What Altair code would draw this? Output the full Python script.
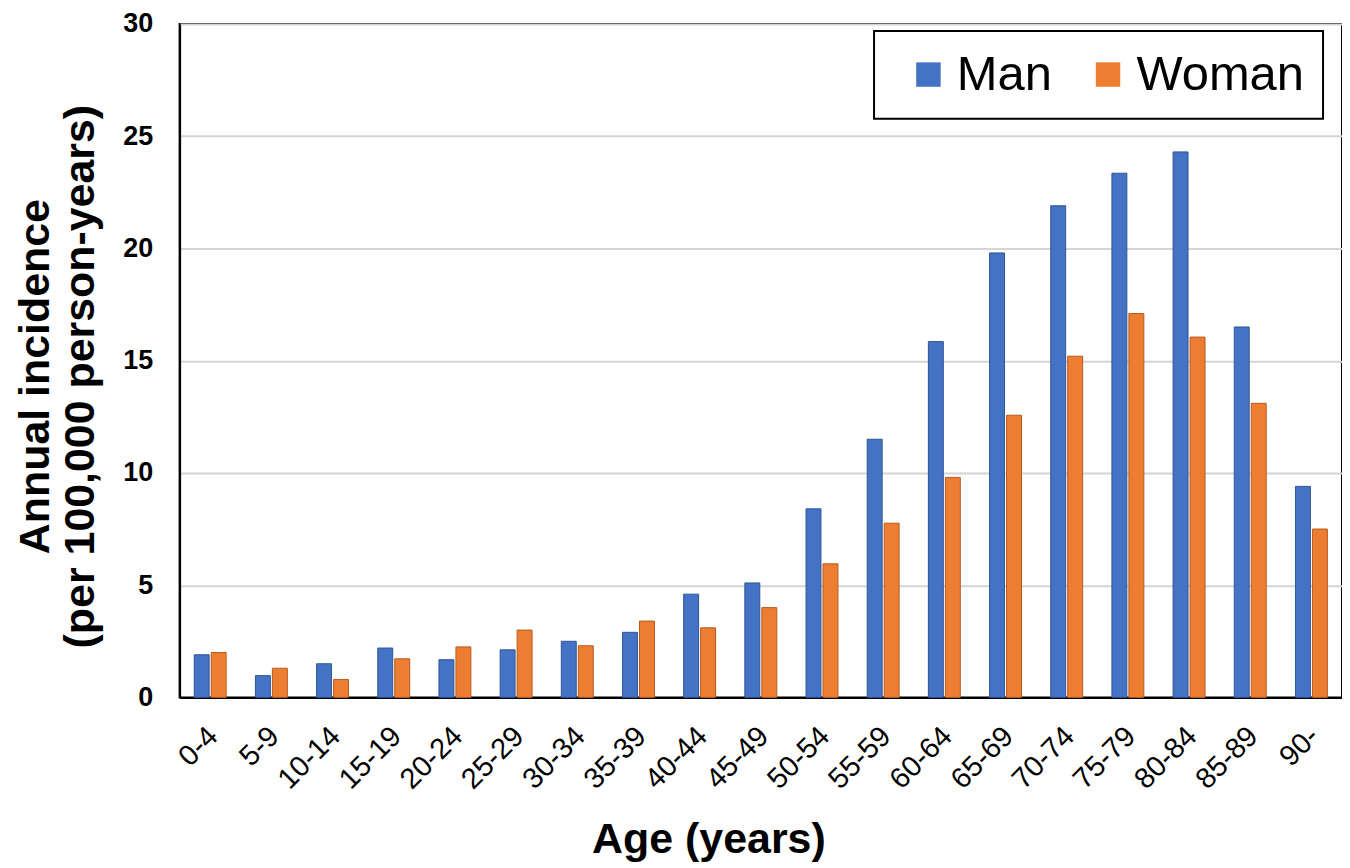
import pandas as pd
import altair as alt

# age groups and incidence per 100,000 person-years
age_groups = ['0-4', '5-9', '10-14', '15-19', '20-24', '25-29', '30-34', '35-39',
              '40-44', '45-49', '50-54', '55-59', '60-64', '65-69', '70-74',
              '75-79', '80-84', '85-89', '90-']
man = [1.9, 0.97, 1.5, 2.2, 1.68, 2.12, 2.5, 2.9, 4.6, 5.1, 8.4, 11.5,
       15.85, 19.8, 21.9, 23.35, 24.3, 16.5, 9.4]
woman = [2.0, 1.3, 0.8, 1.72, 2.25, 3.0, 2.3, 3.4, 3.1, 4.0, 5.95, 7.76,
         9.8, 12.57, 15.2, 17.1, 16.05, 13.1, 7.5]
sexes = ['Man', 'Woman']

df = pd.concat([
    pd.DataFrame({'age': age_groups, 'sex': 'Man', 'value': man}),
    pd.DataFrame({'age': age_groups, 'sex': 'Woman', 'value': woman}),
])

font = 'Liberation Sans'

bars = alt.Chart(df).mark_bar(strokeWidth=1).encode(
    x=alt.X('age:N', sort=age_groups,
            scale=alt.Scale(paddingInner=0.478, paddingOuter=0.239),
            axis=alt.Axis(title='Age (years)', labelAngle=-45, labelFontSize=29,
                          labelFont=font, labelColor='black', labelPadding=24,
                          labelOffset=-7,
                          ticks=False, domainColor='black', domainWidth=2,
                          titleFont=font, titleFontSize=43, titleFontWeight='bold',
                          titleColor='black', titleX=530, titleY=155,
                          titleBaseline='alphabetic')),
    xOffset=alt.XOffset('sex:N', sort=sexes,
                        scale=alt.Scale(paddingInner=0.12, paddingOuter=0)),
    y=alt.Y('value:Q',
            scale=alt.Scale(domain=[0, 30], nice=False),
            axis=alt.Axis(title=['Annual incidence', '(per 100,000 person-years)'],
                          values=[0, 5, 10, 15, 20, 25, 30],
                          labelFontSize=27, labelFont=font, labelFontWeight='bold',
                          labelColor='black', labelPadding=27, ticks=False,
                          domainColor='black', domainWidth=2,
                          gridColor='#d4d4d4', gridWidth=2,
                          titleFont=font, titleFontSize=43, titleFontWeight='bold',
                          titleColor='black', titlePadding=20, titleLineHeight=45,
                          titleY=353)),
    color=alt.Color('sex:N', sort=sexes,
                    scale=alt.Scale(domain=sexes, range=['#4472C4', '#ED7D31']),
                    legend=alt.Legend(title=None, orient='none', legendX=696, legendY=7,
                                      direction='horizontal', symbolType='square',
                                      symbolSize=600, symbolStrokeWidth=0,
                                      labelFontSize=49, labelFont=font, labelColor='black',
                                      labelLimit=400, labelOffset=4, columnPadding=20,
                                      symbolOffset=11, padding=19,
                                      strokeColor='black', fillColor='white')),
    stroke=alt.Stroke('sex:N', sort=sexes,
                      scale=alt.Scale(domain=sexes, range=['#2F5597', '#B85A1E']),
                      legend=None),
).properties(
    width=1165,
    height=675,
    autosize=alt.AutoSizeParams(type='none'),
    padding={'left': 172, 'top': 15, 'right': 0, 'bottom': 168},
)

chart = bars.configure_view(
    stroke='black', strokeWidth=2
).configure_legend(
    strokeWidth=2
)

chart.save('out.html', embed_options={'renderer': 'svg', 'actions': False})
